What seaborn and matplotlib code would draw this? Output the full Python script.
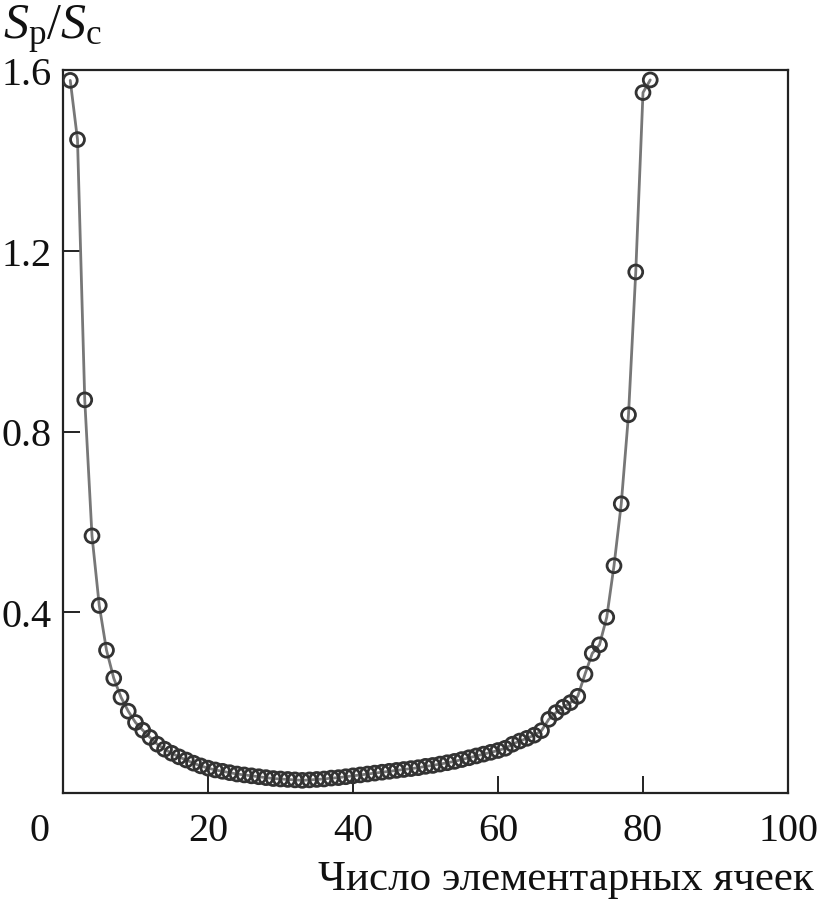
import matplotlib
matplotlib.use("Agg")
import matplotlib.pyplot as plt
import matplotlib.transforms as mtransforms
import seaborn as sns
import pandas as pd

# число элементарных ячеек и отношение Sp/Sc
cells = list(range(1, 82))
ratio = [1.577, 1.446, 0.870, 0.569, 0.415, 0.316, 0.254, 0.212, 0.181, 0.156,
         0.139, 0.123, 0.108, 0.097, 0.088, 0.080, 0.073, 0.066, 0.060, 0.055,
         0.051, 0.048, 0.045, 0.042, 0.040, 0.038, 0.036, 0.034, 0.032, 0.031,
         0.030, 0.029, 0.028, 0.029, 0.030, 0.031, 0.033, 0.034, 0.036, 0.038,
         0.040, 0.042, 0.044, 0.046, 0.048, 0.050, 0.052, 0.054, 0.056, 0.059,
         0.061, 0.064, 0.067, 0.070, 0.074, 0.078, 0.082, 0.086, 0.090, 0.094,
         0.099, 0.108, 0.115, 0.121, 0.128, 0.138, 0.163, 0.178, 0.190, 0.200,
         0.214, 0.263, 0.309, 0.328, 0.389, 0.503, 0.640, 0.837, 1.153, 1.550,
         1.578]
x_ticks = [0, 20, 40, 60, 80, 100]
y_ticks = [0.4, 0.8, 1.2, 1.6]

df = pd.DataFrame({"cells": cells, "ratio": ratio})

sns.set_style("white")
plt.rcParams["font.family"] = ["Liberation Serif", "DejaVu Serif"]
plt.rcParams["mathtext.fontset"] = "custom"
plt.rcParams["mathtext.rm"] = "Liberation Serif"
plt.rcParams["mathtext.it"] = "Liberation Serif:italic"

fig = plt.figure(figsize=(8.18, 9.04), dpi=100)
ax = fig.add_axes([63 / 818, 110 / 904, 725 / 818, 723 / 904])

sns.lineplot(data=df, x="cells", y="ratio", ax=ax, color="#777777",
             linewidth=2.0, zorder=2)
sns.scatterplot(data=df, x="cells", y="ratio", ax=ax, s=100,
                facecolor="none", edgecolor="#333333", linewidth=2.0, zorder=3)

ax.set_xlim(0, 100)
ax.set_ylim(0, 1.6)
ax.set_xticks(x_ticks)
ax.set_yticks(y_ticks)
ax.set_yticklabels([f"{v:.1f}" for v in y_ticks])
ax.tick_params(bottom=True, left=True, direction="in", length=12, width=1.4,
               color="#222222", labelsize=29, labelcolor="#111111")
ax.tick_params(axis="x", pad=14, labelsize=29)
ax.tick_params(axis="y", pad=8)
for sp in ax.spines.values():
    sp.set_color("#222222")
    sp.set_linewidth(1.6)

# подпись "0" в оригинале смещена влево
lbl0 = ax.get_xticklabels()[0]
lbl0.set_transform(lbl0.get_transform() +
                   mtransforms.ScaledTranslation(-0.23, 0, fig.dpi_scale_trans))

ax.set_xlabel("")
ax.set_ylabel("")
fig.text(814 / 818, 1 - 880 / 904, "Число элементарных ячеек", ha="right",
         va="center", fontsize=31, color="#111111")
fig.text(3 / 818, 1 - 30 / 904, r"$S_\mathrm{p}/S_\mathrm{c}$", ha="left",
         va="center", fontsize=36, color="#111111")

fig.savefig("out.png", dpi=100)
